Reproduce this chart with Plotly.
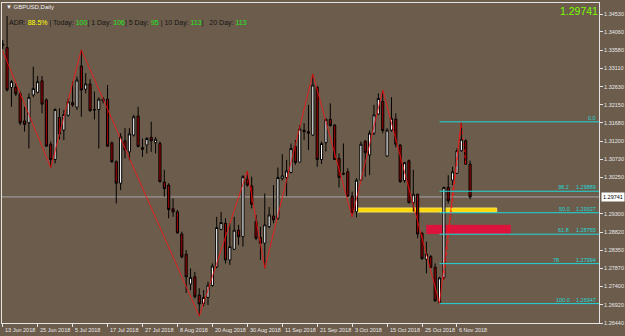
import plotly.graph_objects as go

# ---------------- data ----------------
bars = list(range(108))
opens = [1.3370, 1.3365, 1.3261, 1.3261, 1.3244, 1.3173, 1.3168, 1.3241, 1.3248, 1.3278,
         1.3228, 1.3112, 1.3072, 1.3182, 1.3149, 1.3188, 1.3221, 1.3209, 1.3317, 1.3256,
         1.3270, 1.3203, 1.3203, 1.3226, 1.3230, 1.3116, 1.3066, 1.3010, 1.3121, 1.3092,
         1.3136, 1.3186, 1.3103, 1.3110, 1.3130, 1.3116, 1.3114, 1.3013, 1.3005, 1.2943,
         1.2935, 1.2877, 1.2824, 1.2746, 1.2765, 1.2717, 1.2695, 1.2711, 1.2742, 1.2791,
         1.2889, 1.2905, 1.2809, 1.2837, 1.2887, 1.2870, 1.3021, 1.3003, 1.2909, 1.2868,
         1.2853, 1.2896, 1.2924, 1.2918, 1.3022, 1.3025, 1.3038, 1.3106, 1.3065, 1.3149,
         1.3145, 1.3136, 1.3261, 1.3072, 1.3116, 1.3177, 1.3162, 1.3075, 1.3036, 1.3040,
         1.2976, 1.2935, 1.3018, 1.3120, 1.3084, 1.3141, 1.3191, 1.3224, 1.3081, 1.3149,
         1.3178, 1.3110, 1.3017, 1.3069, 1.2959, 1.2981, 1.2879, 1.2811, 1.2818, 1.2790,
         1.2697, 1.2763, 1.2999, 1.3018, 1.3036, 1.3095, 1.3121, 1.3060]
highs = [1.3385, 1.3448, 1.3280, 1.3271, 1.3250, 1.3210, 1.3245, 1.3315, 1.3291, 1.3291,
         1.3232, 1.3119, 1.3206, 1.3206, 1.3202, 1.3232, 1.3276, 1.3289, 1.3359, 1.3298,
         1.3282, 1.3250, 1.3235, 1.3235, 1.3267, 1.3119, 1.3070, 1.3141, 1.3154, 1.3154,
         1.3189, 1.3210, 1.3127, 1.3131, 1.3171, 1.3131, 1.3119, 1.3045, 1.3010, 1.2970,
         1.2940, 1.2883, 1.2835, 1.2787, 1.2778, 1.2735, 1.2730, 1.2752, 1.2800, 1.2922,
         1.2935, 1.2918, 1.2905, 1.2922, 1.2901, 1.3031, 1.3042, 1.3027, 1.2927, 1.2896,
         1.2983, 1.2948, 1.3005, 1.3051, 1.3086, 1.3071, 1.3114, 1.3123, 1.3162, 1.3167,
         1.3215, 1.3296, 1.3265, 1.3119, 1.3180, 1.3219, 1.3165, 1.3088, 1.3114, 1.3049,
         1.2988, 1.3023, 1.3119, 1.3123, 1.3148, 1.3215, 1.3245, 1.3254, 1.3154, 1.3235,
         1.3193, 1.3113, 1.3066, 1.3072, 1.3045, 1.2983, 1.2883, 1.2857, 1.2822, 1.2800,
         1.2765, 1.3001, 1.3031, 1.3053, 1.3101, 1.31707, 1.3125, 1.3069]
lows = [1.3361, 1.3250, 1.3210, 1.3238, 1.3162, 1.3145, 1.3101, 1.3235, 1.3245, 1.3193,
        1.3106, 1.3051, 1.3062, 1.3125, 1.3123, 1.3184, 1.3210, 1.3202, 1.3184, 1.3245,
        1.3197, 1.3177, 1.3101, 1.3219, 1.3106, 1.3064, 1.2957, 1.2992, 1.3075, 1.3070,
        1.3132, 1.3104, 1.3079, 1.3088, 1.3092, 1.3088, 1.3012, 1.2975, 1.2918, 1.2922,
        1.2878, 1.2813, 1.2723, 1.2730, 1.2708, 1.2662, 1.2688, 1.2691, 1.2739, 1.2787,
        1.2887, 1.2800, 1.2796, 1.2835, 1.2848, 1.2844, 1.3001, 1.2944, 1.2861, 1.2809,
        1.2787, 1.2892, 1.2905, 1.2914, 1.3017, 1.2976, 1.3036, 1.3058, 1.3064, 1.3123,
        1.3097, 1.3134, 1.3053, 1.3060, 1.3093, 1.3158, 1.3071, 1.2999, 1.3031, 1.2975,
        1.2922, 1.2921, 1.3017, 1.3027, 1.3031, 1.3136, 1.3189, 1.3141, 1.3079, 1.3145,
        1.3104, 1.3011, 1.3011, 1.2957, 1.2935, 1.2866, 1.2809, 1.2774, 1.2787, 1.2700,
        1.26947, 1.2758, 1.2957, 1.3005, 1.3034, 1.3093, 1.3058, 1.2968]
closes = [1.3374, 1.3254, 1.3276, 1.3244, 1.3168, 1.3164, 1.3235, 1.3258, 1.3276, 1.3217,
          1.3107, 1.3072, 1.3203, 1.3139, 1.3190, 1.3223, 1.3215, 1.3280, 1.3254, 1.3270,
          1.3200, 1.3202, 1.3230, 1.3230, 1.3107, 1.3066, 1.3010, 1.3132, 1.3097, 1.3139,
          1.3184, 1.3106, 1.3099, 1.3127, 1.3121, 1.3125, 1.3014, 1.2996, 1.2941, 1.2935,
          1.2880, 1.2817, 1.2765, 1.2763, 1.2713, 1.2694, 1.2711, 1.2743, 1.2793, 1.2894,
          1.2907, 1.2809, 1.2844, 1.2887, 1.2870, 1.3027, 1.3005, 1.2955, 1.2866, 1.2853,
          1.2901, 1.2927, 1.2914, 1.3025, 1.3029, 1.3042, 1.3101, 1.3064, 1.3152, 1.3145,
          1.3141, 1.3267, 1.3072, 1.3114, 1.3177, 1.3161, 1.3072, 1.3025, 1.3034, 1.2976,
          1.2933, 1.3018, 1.3112, 1.3090, 1.3141, 1.3189, 1.3232, 1.3148, 1.3149, 1.3180,
          1.3112, 1.3014, 1.3064, 1.2959, 1.2981, 1.2877, 1.2813, 1.2825, 1.2790, 1.2702,
          1.2762, 1.2999, 1.2964, 1.3040, 1.3095, 1.3125, 1.3060, 1.29741]

date_tick_bars = [0, 8, 16, 24, 32, 40, 48, 56, 64, 72, 80, 88, 96, 104]
date_tick_labels = ["13 Jun 2018", "25 Jun 2018", "5 Jul 2018", "17 Jul 2018", "27 Jul 2018",
                    "8 Aug 2018", "20 Aug 2018", "30 Aug 2018", "11 Sep 2018", "21 Sep 2018",
                    "3 Oct 2018", "15 Oct 2018", "25 Oct 2018", "6 Nov 2018"]
price_ticks = [1.34530, 1.34060, 1.33580, 1.33110, 1.32630, 1.32150, 1.31680, 1.31200,
               1.30730, 1.30250, 1.29300, 1.28820, 1.28350, 1.27870, 1.27400, 1.26920, 1.26440]

zigzag_bars = [0, 11, 18, 45, 56, 60, 71, 80, 87, 100, 105]
zigzag_prices = [1.3356, 1.3051, 1.3359, 1.2662, 1.3042, 1.2787, 1.3296, 1.2922, 1.3254, 1.26947, 1.31707]
zigzag2_bars = [101, 105, 106]
zigzag2_prices = [1.2758, 1.31707, 1.3058]

fib_start_bar = 100
fib_levels = ["0.0", "38.2", "50.0", "61.8", "78", "100.0"]
fib_prices = [1.31707, 1.29889, 1.29327, 1.28765, 1.27994, 1.26947]

zone_names = ["yellow", "red"]
zone_bar_from = [80.9, 97.1]
zone_bar_to = [113.1, 116.2]
zone_price_lo = [1.29346, 1.28786]
zone_price_hi = [1.29451, 1.28996]

last_price = 1.29741
adr_pct = "88.5%"
adr_today, adr_1, adr_5, adr_10, adr_20 = 100, 106, 95, 113, 113

# ---------------- layout helpers ----------------
W, H = 625, 336
ML, MR, MT, MB = 1, 24, 3, 13
PW, PH = W - ML - MR, H - MT - MB
X_RANGE = [-0.16, -0.16 + PW / 4.39]
Y_RANGE = [1.26440, 1.34818]


def px_x(px):
    return (px - ML) / PW


def px_y(py):
    return (H - MB - py) / PH


BG = "#6C5C4C"
AX = "#E4E4E4"
CYAN = "#1ED8D8"
FONT = "Liberation Sans"

fig = go.Figure()

fig.add_trace(go.Candlestick(
    x=bars, open=opens, high=highs, low=lows, close=closes,
    increasing=dict(fillcolor="white", line=dict(color="black", width=1)),
    decreasing=dict(fillcolor="#9A0000", line=dict(color="black", width=1)),
    whiskerwidth=0, hoverinfo="skip", showlegend=False))

fig.add_trace(go.Scatter(x=zigzag_bars, y=zigzag_prices, mode="lines",
                         line=dict(color="#FF1010", width=0.8), hoverinfo="skip", showlegend=False))
fig.add_trace(go.Scatter(x=zigzag2_bars, y=zigzag2_prices, mode="lines",
                         line=dict(color="#FF1010", width=0.8, dash="dot"), hoverinfo="skip",
                         showlegend=False))

shapes = []
shapes.append(dict(type="line", xref="paper", x0=0, x1=1, yref="y", y0=last_price, y1=last_price,
                   line=dict(color="#A8A8A8", width=1), layer="below"))
zone_colors = {"yellow": ("#FFD800", "#F2E060"), "red": ("#DC143C", "#DC143C")}
for n, a, b, lo, hi in zip(zone_names, zone_bar_from, zone_bar_to, zone_price_lo, zone_price_hi):
    fc, lc = zone_colors[n]
    shapes.append(dict(type="rect", xref="x", yref="y", x0=a, x1=b, y0=lo, y1=hi,
                       fillcolor=fc, line=dict(color=lc, width=1), layer="below"))
for lv, p in zip(fib_levels, fib_prices):
    shapes.append(dict(type="line", xref="x", yref="y", x0=fib_start_bar, x1=X_RANGE[1], y0=p, y1=p,
                       line=dict(color=CYAN, width=1)))

annotations = []
for b, t in zip(date_tick_bars, date_tick_labels):
    annotations.append(dict(x=b, xref="x", y=px_y(329.5), yref="paper", text=t, showarrow=False,
                            xanchor="left", yanchor="middle", xshift=0.5,
                            font=dict(family=FONT, size=5.5, color="#E8E8E8")))
fib_text_right = {"0.0": 600, "38.2": 573, "50.0": 574, "61.8": 573, "78": 563, "100.0": 574}
for lv, p in zip(fib_levels, fib_prices):
    annotations.append(dict(x=px_x(fib_text_right[lv]), xref="paper", y=p, yref="y", text=lv,
                            showarrow=False, xanchor="right", yanchor="bottom", yshift=-1,
                            font=dict(family=FONT, size=5.5, color=CYAN)))
    if lv != "0.0":
        annotations.append(dict(x=px_x(600), xref="paper", y=p, yref="y", text=f"{p:.5f}",
                                showarrow=False, xanchor="right", yanchor="bottom", yshift=-1,
                                font=dict(family=FONT, size=5.5, color=CYAN)))
annotations.append(dict(x=px_x(603), xref="paper", y=last_price, yref="y", text=f"{last_price:.5f}",
                        showarrow=False, xanchor="left", yanchor="middle", bgcolor="white",
                        borderpad=1, font=dict(family=FONT, size=5.5, color="black")))
annotations.append(dict(x=px_x(581), xref="paper", y=px_y(11), yref="paper", text=f"{last_price:.5f}",
                        showarrow=False, xanchor="center", yanchor="middle",
                        font=dict(family=FONT, size=10.5, color="#7CFC00")))
annotations.append(dict(x=px_x(3), xref="paper", y=px_y(6.5), yref="paper",
                        text="▼ GBPUSD,Daily", showarrow=False, xanchor="left", yanchor="middle",
                        font=dict(family=FONT, size=6, color="#F0F0F0")))
G = "#18E818"
adr = (f"ADR: <span style='color:#FFFF00'>{adr_pct}</span> | Today: <span style='color:{G}'>{adr_today}</span>"
       f"| 1 Day: <span style='color:{G}'>{adr_1}</span>| 5 Day: <span style='color:{G}'>{adr_5}</span> "
       f"| 10 Day: <span style='color:{G}'>{adr_10}</span>|   20 Day: <span style='color:{G}'>{adr_20}</span>")
annotations.append(dict(x=px_x(6), xref="paper", y=px_y(23), yref="paper", text=adr, showarrow=False,
                        xanchor="left", yanchor="middle",
                        font=dict(family=FONT, size=7.0, color="#141414")))

fig.update_layout(
    width=W, height=H, margin=dict(l=ML, r=MR, t=MT, b=MB, pad=0),
    paper_bgcolor=BG, plot_bgcolor=BG, showlegend=False,
    shapes=shapes, annotations=annotations,
    xaxis=dict(range=X_RANGE, showgrid=False, zeroline=False, rangeslider=dict(visible=False),
               showline=True, mirror=True, linecolor=AX, linewidth=1,
               tickmode="array", tickvals=date_tick_bars, ticks="outside", ticklen=3,
               tickcolor=AX, showticklabels=False),
    yaxis=dict(range=Y_RANGE, side="right", showgrid=False, zeroline=False,
               showline=True, mirror=True, linecolor=AX, linewidth=1,
               tickmode="array", tickvals=price_ticks, ticktext=[f"{v:.5f}" for v in price_ticks],
               ticks="outside", ticklen=3, tickcolor=AX,
               tickfont=dict(family=FONT, size=5.5, color="#E8E8E8")),
)

fig.write_html("out.html")
